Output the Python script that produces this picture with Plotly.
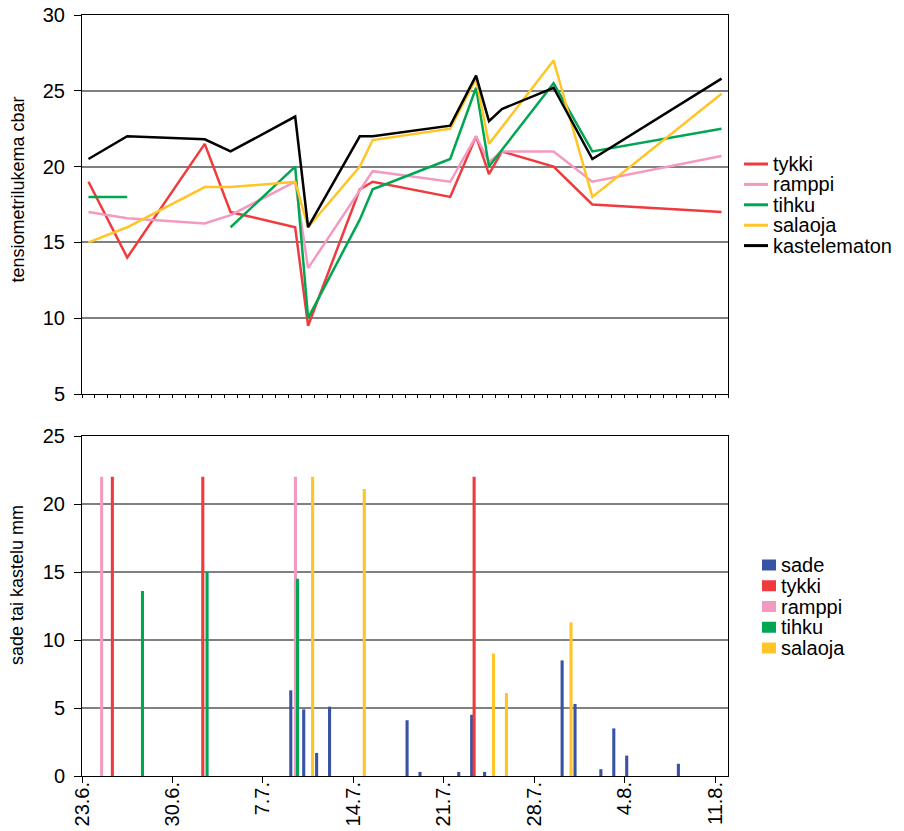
import plotly.graph_objects as go

# ---------------- data ----------------
# top panel: tensiometer readings (cbar)
dates_kastelematon = ["2009-06-23", "2009-06-26", "2009-07-02", "2009-07-04", "2009-07-09", "2009-07-10",
                      "2009-07-14", "2009-07-15", "2009-07-21", "2009-07-23", "2009-07-24", "2009-07-25",
                      "2009-07-29", "2009-08-01", "2009-08-11"]
kastelematon = [20.5, 22.0, 21.8, 21.0, 23.3, 16.0, 22.0, 22.0, 22.7, 26.0, 23.0, 23.8, 25.2, 20.5, 25.8]

dates_tykki = dates_kastelematon
tykki = [19.0, 14.0, 21.5, 17.0, 16.0, 9.5, 18.5, 19.0, 18.0, 22.0, 19.5, 21.0, 20.0, 17.5, 17.0]

dates_ramppi = ["2009-06-23", "2009-06-26", "2009-07-02", "2009-07-04", "2009-07-09", "2009-07-10",
                "2009-07-15", "2009-07-21", "2009-07-23", "2009-07-24", "2009-07-25", "2009-07-29",
                "2009-08-01", "2009-08-11"]
ramppi = [17.0, 16.6, 16.25, 16.8, 19.0, 13.3, 19.7, 19.0, 22.0, 20.3, 21.0, 21.0, 19.0, 20.7]

dates_tihku = ["2009-06-23", "2009-06-26", "2009-07-02", "2009-07-04", "2009-07-09", "2009-07-10",
               "2009-07-14", "2009-07-15", "2009-07-21", "2009-07-23", "2009-07-24", "2009-07-29",
               "2009-08-01", "2009-08-11"]
tihku = [18.0, 18.0, None, 16.0, 20.0, 10.0, 16.5, 18.5, 20.5, 25.2, 20.0, 25.5, 21.0, 22.5]

dates_salaoja = ["2009-06-23", "2009-06-26", "2009-07-02", "2009-07-04", "2009-07-09", "2009-07-10",
                 "2009-07-14", "2009-07-15", "2009-07-21", "2009-07-23", "2009-07-24", "2009-07-29",
                 "2009-08-01", "2009-08-11"]
salaoja = [15.0, 16.0, 18.65, 18.65, 19.0, 16.0, 20.0, 21.75, 22.5, 25.8, 21.5, 27.0, 18.0, 24.8]

# bottom panel: rain / irrigation (mm)
sade_dates = ["2009-07-09", "2009-07-10", "2009-07-11", "2009-07-12", "2009-07-18", "2009-07-19",
              "2009-07-22", "2009-07-23", "2009-07-24", "2009-07-30", "2009-07-31", "2009-08-02",
              "2009-08-03", "2009-08-04", "2009-08-08"]
sade_mm = [6.3, 4.9, 1.7, 5.1, 4.1, 0.3, 0.3, 4.5, 0.3, 8.5, 5.3, 0.5, 3.5, 1.5, 0.9]
tykki_bar_dates = ["2009-06-25", "2009-07-02", "2009-07-23"]
tykki_mm = [22, 22, 22]
ramppi_bar_dates = ["2009-06-24", "2009-07-09"]
ramppi_mm = [22, 22]
tihku_bar_dates = ["2009-06-27", "2009-07-02", "2009-07-09"]
tihku_mm = [13.6, 15.0, 14.5]
salaoja_bar_dates = ["2009-07-10", "2009-07-14", "2009-07-24", "2009-07-25", "2009-07-30"]
salaoja_mm = [22, 21.1, 9.0, 6.1, 11.3]

tick_dates = ["2009-06-23", "2009-06-30", "2009-07-07", "2009-07-14", "2009-07-21", "2009-07-28",
              "2009-08-04", "2009-08-11"]
tick_labels = ["23.6.", "30.6.", "7.7.", "14.7.", "21.7.", "28.7.", "4.8.", "11.8."]

line_names = ["tykki", "ramppi", "tihku", "salaoja", "kastelematon"]
bar_names = ["sade", "tykki", "ramppi", "tihku", "salaoja"]

# ---------------- styles ----------------
C = {"sade": "#3953A4", "tykki": "#EF3A3E", "ramppi": "#F49AC1", "tihku": "#00A651",
     "salaoja": "#FFC425", "kastelematon": "#000000"}
FONT = "Liberation Sans, Arial, sans-serif"
W, H = 904, 831
ML, MT = 82, 15
MR = W - 728
MB = H - 776
PW, PH = W - ML - MR, H - MT - MB
DAY = 86400000


def px2x(px):
    return (px - ML) / PW


def py2y(py):
    return (H - MB - py) / PH


def noon(ds):
    return [d + " 12:00" for d in ds]


fig = go.Figure()

series = {
    "tykki": (dates_tykki, tykki),
    "ramppi": (dates_ramppi, ramppi),
    "tihku": (dates_tihku, tihku),
    "salaoja": (dates_salaoja, salaoja),
    "kastelematon": (dates_kastelematon, kastelematon),
}
for name in line_names:
    d, v = series[name]
    fig.add_trace(go.Scatter(x=noon(d), y=v, mode="lines", name=name,
                             line=dict(color=C[name], width=2.5), connectgaps=False,
                             xaxis="x", yaxis="y", showlegend=False))

bars = {
    "sade": (sade_dates, sade_mm),
    "tykki": (tykki_bar_dates, tykki_mm),
    "ramppi": (ramppi_bar_dates, ramppi_mm),
    "tihku": (tihku_bar_dates, tihku_mm),
    "salaoja": (salaoja_bar_dates, salaoja_mm),
}
slot_offset = {"sade": -0.34, "tykki": -0.15, "ramppi": 0.02, "tihku": 0.18, "salaoja": 0.35}
bar_w = 0.24
for name in bar_names:
    d, v = bars[name]
    fig.add_trace(go.Bar(x=noon(d), y=v, name=name, marker=dict(color=C[name], line=dict(width=0)),
                         width=bar_w * DAY, offset=(slot_offset[name] - bar_w / 2) * DAY,
                         xaxis="x2", yaxis="y2", showlegend=False))

top_dom = [py2y(394), 1.0]
bot_dom = [0.0, py2y(436)]
xr = ["2009-06-23", "2009-08-12"]
grid = "#808080"

axis_common = dict(showline=True, linecolor="black", linewidth=1, mirror=True, automargin=False,
                   ticklabeloverflow="allow",
                   tickfont=dict(family=FONT, size=20, color="black"))

fig.update_layout(
    width=W, height=H, margin=dict(l=ML, r=MR, t=MT, b=MB, autoexpand=False),
    paper_bgcolor="white", plot_bgcolor="white",
    barmode="overlay",
    showlegend=False,
    font=dict(family=FONT, color="black"),
    xaxis=dict(anchor="y", domain=[0, 1], type="date", range=xr, showgrid=False,
               showticklabels=False, ticks="outside", ticklen=3, tickcolor="black",
               tick0="2009-06-23", dtick=DAY, **axis_common),
    yaxis=dict(anchor="x", domain=top_dom, range=[5, 30], dtick=5, showgrid=True,
               gridcolor=grid, gridwidth=1.5, ticks="outside", ticklen=7, tickcolor="black",
               ticklabelstandoff=5, zeroline=False, **axis_common),
    xaxis2=dict(anchor="y2", domain=[0, 1], type="date", range=xr, showgrid=False,
                tickmode="array", tickvals=tick_dates, ticktext=tick_labels, tickangle=-90,
                ticks="outside", ticklen=6, tickcolor="black", ticklabelstandoff=-9, **axis_common),
    yaxis2=dict(anchor="x2", domain=bot_dom, range=[0, 25], dtick=5, showgrid=True,
                gridcolor=grid, gridwidth=1.5, ticks="outside", ticklen=7, tickcolor="black",
                ticklabelstandoff=5, zeroline=False, **axis_common),
)

annotations = []
shapes = []

# axis titles
annotations.append(dict(text="tensiometrilukema cbar", x=px2x(17), y=py2y(189.5), xref="paper", yref="paper",
                        textangle=-90, showarrow=False, xanchor="center", yanchor="middle",
                        font=dict(family=FONT, size=18, color="black")))
annotations.append(dict(text="sade tai kastelu mm", x=px2x(17), y=py2y(585), xref="paper", yref="paper",
                        textangle=-90, showarrow=False, xanchor="center", yanchor="middle",
                        font=dict(family=FONT, size=18, color="black")))

# legend for lines
for i, name in enumerate(line_names):
    yc = 164 + i * 20.4
    shapes.append(dict(type="line", xref="paper", yref="paper", x0=px2x(744), x1=px2x(768),
                       y0=py2y(yc), y1=py2y(yc), line=dict(color=C[name], width=3)))
    annotations.append(dict(text=name, x=px2x(771), y=py2y(yc), xref="paper", yref="paper",
                            showarrow=False, xanchor="left", yanchor="middle",
                            font=dict(family=FONT, size=20, color="black")))

# legend for bars
for i, name in enumerate(bar_names):
    yc = 565 + i * 20.75
    shapes.append(dict(type="rect", xref="paper", yref="paper", x0=px2x(762), x1=px2x(776),
                       y0=py2y(yc + 5.5), y1=py2y(yc - 5.5), fillcolor=C[name],
                       line=dict(width=0)))
    annotations.append(dict(text=name, x=px2x(779), y=py2y(yc), xref="paper", yref="paper",
                            showarrow=False, xanchor="left", yanchor="middle",
                            font=dict(family=FONT, size=20, color="black")))

fig.update_layout(annotations=annotations, shapes=shapes)

fig.write_html("out.html", config={"displayModeBar": False},
               post_script="document.body.style.margin='0px';")
